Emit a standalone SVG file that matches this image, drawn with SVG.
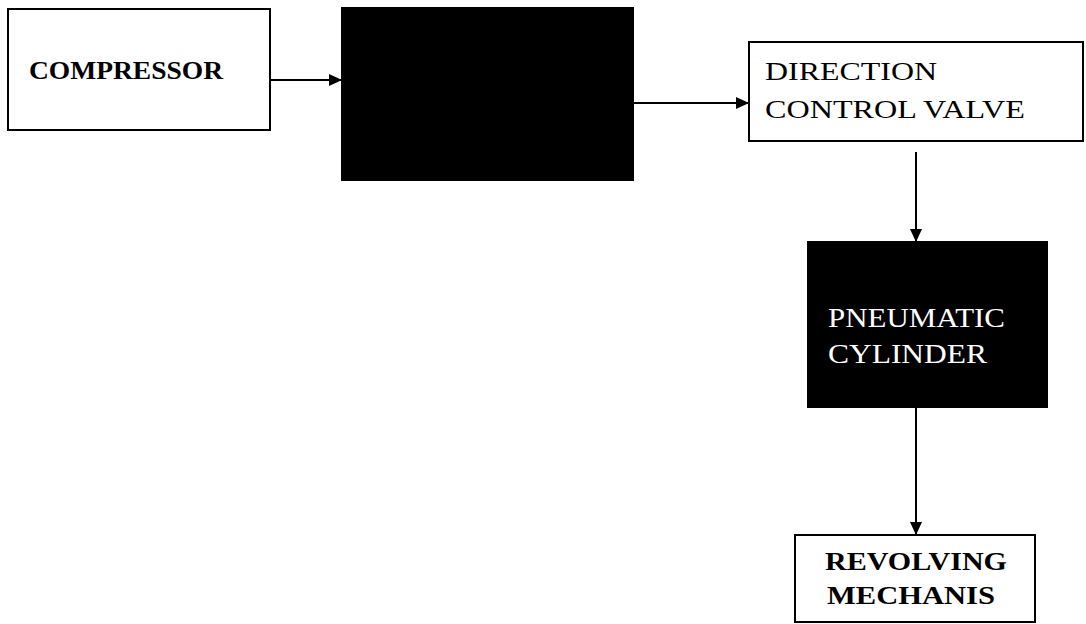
<svg xmlns="http://www.w3.org/2000/svg" width="1086" height="624" viewBox="0 0 1086 624">
<style>
.box{fill:#fff;stroke:#000;stroke-width:2}
.dark{fill:#000;stroke:#000;stroke-width:2}
.b{font-family:"Liberation Serif","Times New Roman",serif;font-weight:bold;fill:#000}
.r{font-family:"Liberation Serif","Times New Roman",serif;fill:#000}
.w{font-family:"Liberation Serif","Times New Roman",serif;fill:#fff}
.c{stroke:#000;stroke-width:2;fill:none;marker-end:url(#ah)}
</style>
<defs>
<marker id="ah" markerWidth="13" markerHeight="12" refX="13" refY="6" orient="auto" markerUnits="userSpaceOnUse">
<path d="M0,0 L13,6 L0,12 Z" fill="#000"/>
</marker>
</defs>
<g id="compressor">
<rect class="box" x="8" y="9" width="262" height="121"/>
<text class="b" x="29" y="79" font-size="26" textLength="194" lengthAdjust="spacingAndGlyphs">COMPRESSOR</text>
</g>
<g id="blackbox">
<rect class="dark" x="342" y="8" width="291" height="172"/>
</g>
<g id="dcv">
<rect class="box" x="749" y="42" width="334" height="99"/>
<text class="r" x="765" y="80" font-size="25" textLength="172" lengthAdjust="spacingAndGlyphs">DIRECTION</text>
<text class="r" x="765" y="118" font-size="25" textLength="260" lengthAdjust="spacingAndGlyphs">CONTROL VALVE</text>
</g>
<g id="cylinder">
<rect class="dark" x="808" y="242" width="239" height="165"/>
<text class="w" x="828" y="327" font-size="27" textLength="177" lengthAdjust="spacingAndGlyphs">PNEUMATIC</text>
<text class="w" x="828" y="363" font-size="27" textLength="159" lengthAdjust="spacingAndGlyphs">CYLINDER</text>
</g>
<g id="revolving">
<rect class="box" x="795" y="535" width="240" height="87"/>
<text class="b" x="825" y="570" font-size="25" textLength="182" lengthAdjust="spacingAndGlyphs">REVOLVING</text>
<text class="b" x="827" y="604" font-size="25" textLength="168" lengthAdjust="spacingAndGlyphs">MECHANIS</text>
</g>
<g id="connectors">
<line class="c" x1="270" y1="80" x2="342" y2="80"/>
<line class="c" x1="633" y1="103" x2="749" y2="103"/>
<line class="c" x1="916" y1="152" x2="916" y2="242"/>
<line class="c" x1="916" y1="407" x2="916" y2="535"/>
</g>
</svg>
